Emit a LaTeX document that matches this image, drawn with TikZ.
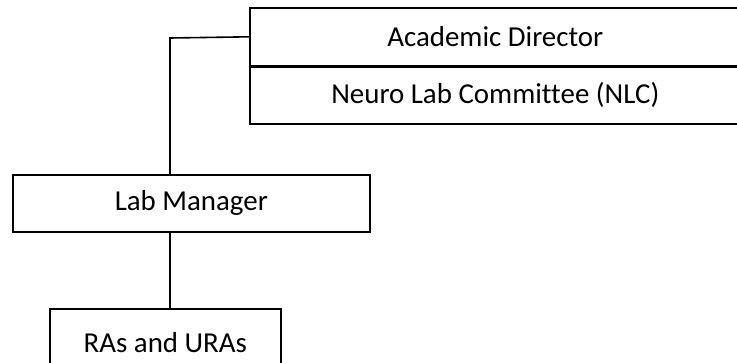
\documentclass[tikz,border=0pt]{standalone}
\usepackage{fontspec}
\setmainfont[Ligatures=NoCommon]{Carlito}
\usetikzlibrary{calc}

\begin{document}
\begin{tikzpicture}[x=1bp,y=-1bp]
        % Box and line styles
        \tikzset{
            orgbox/.style={draw, line width=1.6bp, inner sep=0pt, anchor=north west,
                font=\fontsize{29}{34}\selectfont},
            link/.style={line width=1.6bp}
        }
        \useasboundingbox (0,0) rectangle (737,362);

        % Draw the boxes
        \node[orgbox, minimum width=491bp, minimum height=58bp] (ad) at (249,7) {Academic Director};
        \node[orgbox, minimum width=491bp, minimum height=57bp] (nlc) at (249,66) {Neuro Lab Committee (NLC)};
        \node[orgbox, minimum width=357bp, minimum height=57bp] (lm) at (12,174) {Lab Manager};
        \node[orgbox, minimum width=231bp, minimum height=62bp, text depth=0pt] (ras) at (49,308) {\raisebox{-6bp}{RAs and URAs}};

        % Elbow of the top connector
        \coordinate (elbow) at (170,38);

        % Draw the connectors
        \draw[link] (ad.west) -- (elbow) -- (elbow |- lm.north);
        \draw[link] (elbow |- lm.south) -- (elbow |- ras.north);
\end{tikzpicture}
\end{document}
